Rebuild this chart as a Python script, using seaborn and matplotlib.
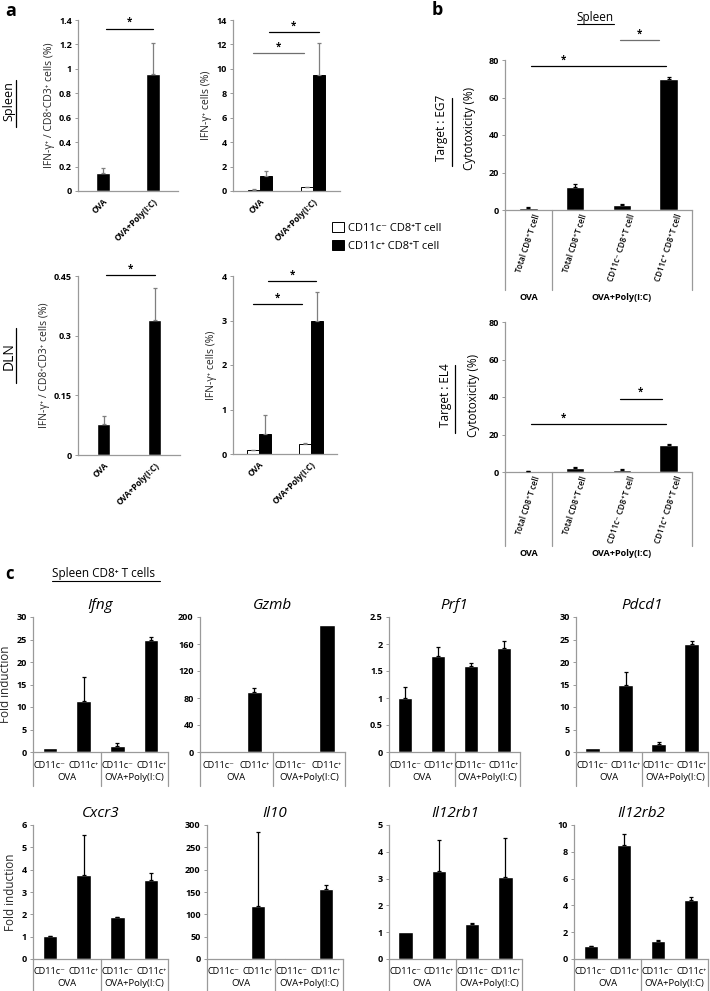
import numpy as np
import pandas as pd
import matplotlib
matplotlib.use("Agg")
import matplotlib.pyplot as plt
import matplotlib.transforms as mtransforms
import seaborn as sns

# ---------------- data: panel a ----------------
groups_a = ["OVA", "OVA+Poly(I:C)"]
cell_types = ["CD11c⁻ CD8⁺T cell", "CD11c⁺ CD8⁺T cell"]

spleen_total = [0.15, 0.96]
spleen_total_err = [0.04, 0.25]
spleen_neg = [0.1, 0.3]
spleen_neg_err = [0.03, 0.05]
spleen_pos = [1.2, 9.5]
spleen_pos_err = [0.45, 2.65]

dln_total = [0.077, 0.34]
dln_total_err = [0.02, 0.08]
dln_neg = [0.08, 0.22]
dln_neg_err = [0.02, 0.03]
dln_pos = [0.45, 3.0]
dln_pos_err = [0.43, 0.65]

# ---------------- data: panel b ----------------
effectors_b = ["Total CD8⁺T cell", "Total CD8⁺T cell", "CD11c⁻ CD8⁺T cell", "CD11c⁺ CD8⁺T cell"]
eg7 = [1.0, 12.5, 2.5, 70.0]
eg7_err = [0.6, 1.3, 0.8, 1.0]
el4 = [0.3, 2.3, 1.2, 14.5]
el4_err = [0.1, 0.6, 0.4, 0.5]

# ---------------- data: panel c ----------------
cats_c = ["CD11c⁻", "CD11c⁺", "CD11c⁻", "CD11c⁺"]
treat_c = ["OVA", "OVA+Poly(I:C)"]
ifng = [0.8, 11.3, 1.3, 25.0]
ifng_err = [0.0, 5.4, 0.6, 0.5]
gzmb = [0.3, 89.0, 0.8, 188.0]
gzmb_err = [0.0, 6.0, 0.0, 0.0]
prf1 = [1.0, 1.78, 1.6, 1.93]
prf1_err = [0.2, 0.16, 0.05, 0.12]
pdcd1 = [0.9, 15.0, 1.7, 24.1]
pdcd1_err = [0.0, 2.7, 0.6, 0.5]
cxcr3 = [1.02, 3.78, 1.88, 3.55]
cxcr3_err = [0.03, 1.77, 0.02, 0.28]
il10 = [0.5, 118.0, 3.0, 156.0]
il10_err = [0.0, 167.0, 0.0, 10.0]
il12rb1 = [1.02, 3.3, 1.32, 3.06]
il12rb1_err = [0.0, 1.13, 0.03, 1.44]
il12rb2 = [0.95, 8.5, 1.37, 4.38]
il12rb2_err = [0.05, 0.85, 0.03, 0.27]

W, H = 710, 991
GREY = "#9a9a9a"

sns.set_style("ticks")
plt.rcParams["font.family"] = ["Open Sans", "DejaVu Sans"]
plt.rcParams["axes.edgecolor"] = GREY
plt.rcParams["axes.linewidth"] = 0.9
plt.rcParams["text.color"] = "black"

fig = plt.figure(figsize=(W / 100, H / 100), dpi=100)


def box(l, t, r, b):
    return [l / W, 1 - b / H, (r - l) / W, (b - t) / H]


def fy(ypx):
    return 1 - ypx / H


def fx(xpx):
    return xpx / W


def style_y(ax, ymax, step, size=6.5):
    ax.set_ylim(0, ymax)
    ticks = np.arange(0, ymax + step / 2, step)
    ax.set_yticks(ticks)
    ax.set_yticklabels([f"{round(v, 3):g}" for v in ticks], fontsize=size, fontweight="bold")
    ax.tick_params(axis="y", length=2.5, width=0.7, color=GREY, pad=2, labelcolor="black")
    ax.set_xlabel("")
    ax.set_ylabel("")
    sns.despine(ax=ax)


def add_errors(ax, errs, ecolor):
    # errs given in left-to-right bar order; take bars from the bar containers only
    bars = [p for c in ax.containers for p in c]
    bars = sorted(bars, key=lambda p: p.get_x())
    for p, e in zip(bars, errs):
        if e <= 0:
            continue
        xc = p.get_x() + p.get_width() / 2
        ax.errorbar(xc, p.get_height(), yerr=[[0], [e]], fmt="none", ecolor=ecolor,
                    elinewidth=0.9, capsize=1.6, capthick=0.9, zorder=3)


def simple_bars(ax, vals, errs, width, ecolor):
    df = pd.DataFrame({"pos": list(range(len(vals))), "val": vals})
    sns.barplot(data=df, x="pos", y="val", color="black", width=width, saturation=1,
                errorbar=None, ax=ax)
    ax.set_xlim(-0.5, len(vals) - 0.5)
    add_errors(ax, errs, ecolor)


def sig(ax, x0, x1, y, color="black", star_x=None):
    ax.plot([x0, x1], [y, y], color=color, lw=0.9, clip_on=False)
    sx = (x0 + x1) / 2 if star_x is None else star_x
    ax.annotate("*", (sx, y), xytext=(0, 0.5), textcoords="offset points",
                ha="center", va="bottom", fontsize=7, fontweight="bold", annotation_clip=False)


# ================= panel a =================
def total_panel(rect, vals, errs, ymax, step, ylab, sig_y):
    ax = fig.add_axes(box(*rect))
    simple_bars(ax, vals, errs, 0.27, "#7f7f7f")
    style_y(ax, ymax, step)
    ax.set_xticks([0, 1])
    ax.set_xticklabels(groups_a, rotation=45, ha="right", rotation_mode="anchor",
                       fontsize=6, fontweight="bold")
    ax.tick_params(axis="x", length=0, pad=4, labelcolor="black")
    ax.set_ylabel(ylab, fontsize=7.5, labelpad=3)
    sig(ax, 0.05, 1.0, sig_y)
    return ax


def split_panel(rect, neg, neg_err, pos, pos_err, ymax, step, lines):
    ax = fig.add_axes(box(*rect))
    df = pd.DataFrame({
        "group": groups_a * 2,
        "cell": [cell_types[0]] * 2 + [cell_types[1]] * 2,
        "val": neg + pos,
    })
    sns.barplot(data=df, x="group", y="val", hue="cell", hue_order=cell_types,
                palette=["white", "black"], edgecolor="black", linewidth=0.7,
                width=0.45, saturation=1, errorbar=None, ax=ax)
    ax.set_xlim(-0.5, 1.5)
    add_errors(ax, [neg_err[0], pos_err[0], neg_err[1], pos_err[1]], "#7f7f7f")
    style_y(ax, ymax, step)
    ax.set_xticklabels(groups_a, rotation=45, ha="right", rotation_mode="anchor",
                       fontsize=6, fontweight="bold")
    ax.tick_params(axis="x", length=0, pad=4, labelcolor="black")
    ax.set_ylabel("IFN-γ⁺ cells (%)", fontsize=7.5, labelpad=3)
    for (x0, x1, y, c) in lines:
        sig(ax, x0, x1, y, color=c)
    return ax


total_panel((78, 20, 178, 191), spleen_total, spleen_total_err, 1.4, 0.2,
            "IFN-γ⁺ / CD8⁺CD3⁺ cells (%)", 1.33)
ax_a2 = split_panel((233, 20, 340, 191), spleen_neg, spleen_neg_err, spleen_pos, spleen_pos_err,
                    14, 2, [(-0.12, 0.82, 11.3, "#6f6f6f"), (0.17, 1.1, 13.0, "black")])
total_panel((78, 276, 180, 455), dln_total, dln_total_err, 0.45, 0.15,
            "IFN-γ⁺ / CD8⁺CD3⁺ cells (%)", 0.452)
ax_a4 = split_panel((233, 276, 337, 454), dln_neg, dln_neg_err, dln_pos, dln_pos_err,
                    4, 1, [(-0.12, 0.82, 3.36, "black"), (0.17, 1.1, 3.88, "black")])

handles, labels = ax_a2.get_legend_handles_labels()
for a in (ax_a2, ax_a4):
    if a.get_legend():
        a.get_legend().remove()
fig.legend(handles, labels, loc="upper left", bbox_to_anchor=(fx(328), fy(218)),
           frameon=False, fontsize=8, handlelength=1.0, handleheight=1.0,
           handletextpad=0.4, labelspacing=0.55, borderaxespad=0)

fig.text(fx(9), fy(101), "Spleen", rotation=90, ha="center", va="center", fontsize=9)
fig.add_artist(plt.Line2D([fx(16), fx(16)], [fy(127), fy(80)], color="black", lw=0.9))
fig.text(fx(9), fy(356), "DLN", rotation=90, ha="center", va="center", fontsize=10)
fig.add_artist(plt.Line2D([fx(16), fx(16)], [fy(383), fy(328)], color="black", lw=0.9))


# ================= panel b =================
def cyto_panel(rect, vals, errs, target, group_y, line_end, lines, label_x, label_y):
    ax = fig.add_axes(box(*rect))
    simple_bars(ax, vals, errs, 0.4, "black")
    style_y(ax, 80, 20)
    ax.set_xticks(range(4))
    ax.set_xticklabels(effectors_b, rotation=72, ha="center", fontsize=5.8, fontweight="semibold")
    ax.tick_params(axis="x", length=0, pad=2, labelcolor="black")
    blend = mtransforms.blended_transform_factory(ax.transData, fig.transFigure)
    y0 = fy(rect[3])
    for xs in (-0.5, 0.5, 3.5):
        ax.plot([xs, xs], [y0, fy(line_end)], transform=blend, color=GREY, lw=0.9, clip_on=False)
    ax.text(0, fy(group_y), "OVA", transform=blend, ha="center", va="center", fontsize=6.5,
            fontweight="bold")
    ax.text(2, fy(group_y), "OVA+Poly(I:C)", transform=blend, ha="center", va="center",
            fontsize=6.5, fontweight="bold")
    for (x0, x1, y, c, sx) in lines:
        sig(ax, x0, x1, y, color=c, star_x=sx)
    # side labels
    fig.text(fx(label_x), fy(label_y), target, rotation=90, ha="center", va="center", fontsize=8.5)
    fig.add_artist(plt.Line2D([fx(label_x + 10), fx(label_x + 10)],
                              [fy(label_y + 38), fy(label_y - 30)], color="black", lw=0.9))
    fig.text(fx(label_x + 28), fy(label_y), "Cytotoxicity (%)", rotation=90,
             ha="center", va="center", fontsize=8.5)
    return ax


cyto_panel((505, 60, 692, 210), eg7, eg7_err, "Target : EG7", 297, 290,
           [(1.95, 2.8, 90.5, "#6f6f6f", None), (0.05, 2.95, 76.8, "black", 0.75)], 442, 128)
cyto_panel((505, 322, 692, 472), el4, el4_err, "Target : EL4", 553, 546,
           [(1.95, 2.85, 39.0, "black", None), (0.05, 2.95, 25.6, "black", 0.75)], 445, 395)

fig.text(fx(595), fy(17), "Spleen", ha="center", va="center", fontsize=8.5)
fig.add_artist(plt.Line2D([fx(577), fx(614)], [fy(24), fy(24)], color="black", lw=0.8))


# ================= panel c =================
def gene_panel(rect, title, vals, errs, ymax, step, cat_y, group_y, line_end, ylabel):
    ax = fig.add_axes(box(*rect))
    simple_bars(ax, vals, errs, 0.43, "black")
    style_y(ax, ymax, step)
    ax.set_xticks([])
    ax.set_title(title, fontsize=11, fontstyle="italic", pad=6)
    if ylabel:
        ax.set_ylabel("Fold induction", fontsize=8.5, labelpad=3)
    blend = mtransforms.blended_transform_factory(ax.transData, fig.transFigure)
    y0 = fy(rect[3])
    for xs in (-0.5, 1.5, 3.5):
        ax.plot([xs, xs], [y0, fy(line_end)], transform=blend, color=GREY, lw=0.9, clip_on=False)
    for i, c in enumerate(cats_c):
        ax.text(i, fy(cat_y), c, transform=blend, ha="center", va="center", fontsize=6.6)
    ax.text(0.5, fy(group_y), treat_c[0], transform=blend, ha="center", va="center", fontsize=6.8)
    ax.text(2.5, fy(group_y), treat_c[1], transform=blend, ha="center", va="center", fontsize=6.8)
    return ax


row1 = dict(cat_y=765, group_y=778, line_end=786)
row2 = dict(cat_y=971, group_y=983, line_end=991)
gene_panel((33, 617, 168, 752), "Ifng", ifng, ifng_err, 30, 5, ylabel=True, **row1)
gene_panel((200, 617, 345, 752), "Gzmb", gzmb, gzmb_err, 200, 40, ylabel=False, **row1)
gene_panel((389, 617, 520, 752), "Prf1", prf1, prf1_err, 2.5, 0.5, ylabel=False, **row1)
gene_panel((576, 617, 708, 752), "Pdcd1", pdcd1, pdcd1_err, 30, 5, ylabel=False, **row1)
gene_panel((33, 825, 168, 959), "Cxcr3", cxcr3, cxcr3_err, 6, 1, ylabel=True, **row2)
gene_panel((207, 825, 343, 959), "Il10", il10, il10_err, 300, 50, ylabel=False, **row2)
gene_panel((389, 825, 522, 959), "Il12rb1", il12rb1, il12rb1_err, 5, 1, ylabel=False, **row2)
gene_panel((574, 825, 708, 959), "Il12rb2", il12rb2, il12rb2_err, 10, 2, ylabel=False, **row2)

fig.text(fx(52), fy(574), "Spleen CD8⁺ T cells", ha="left", va="center", fontsize=8.5)
fig.add_artist(plt.Line2D([fx(52), fx(160)], [fy(581), fy(581)], color="black", lw=0.8))

# panel letters
fig.text(fx(5), fy(11), "a", fontsize=13, fontweight="bold", ha="left", va="center")
fig.text(fx(432), fy(10), "b", fontsize=13, fontweight="bold", ha="left", va="center")
fig.text(fx(5), fy(574), "c", fontsize=12, fontweight="bold", ha="left", va="center")

fig.savefig("out.png", dpi=100)
